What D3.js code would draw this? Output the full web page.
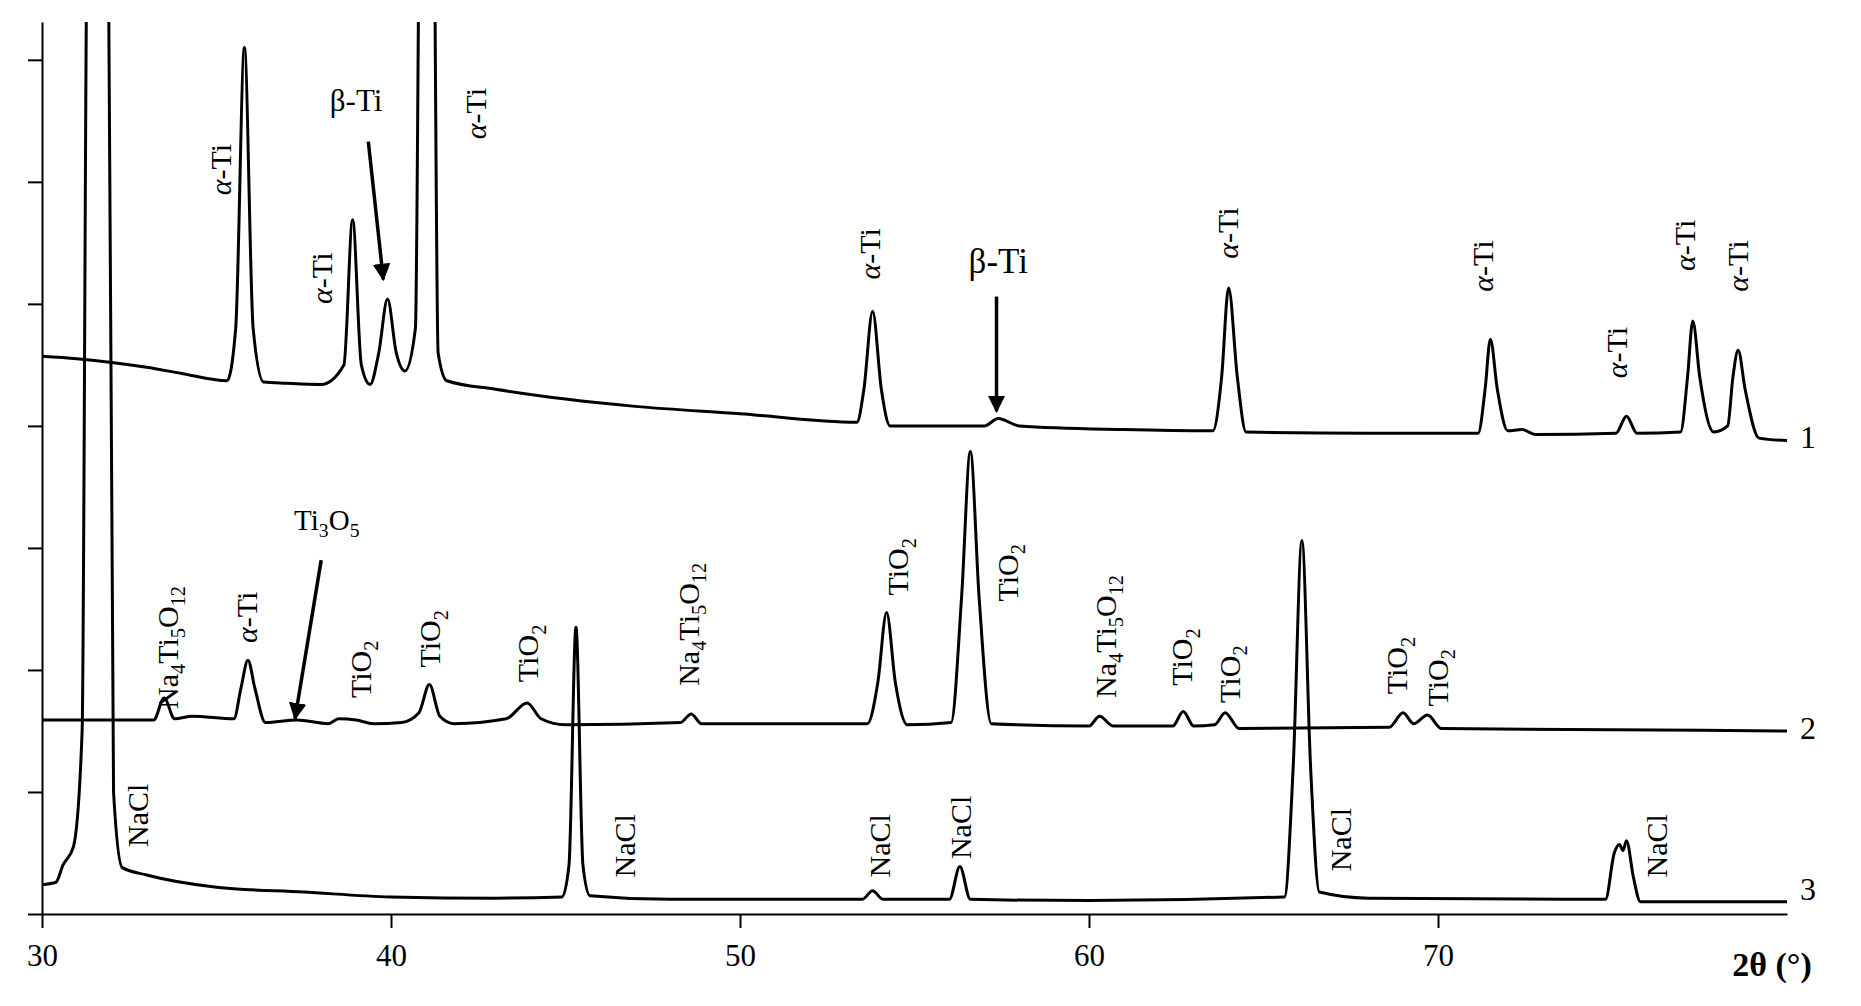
<!DOCTYPE html>
<html>
<head>
<script src="https://d3js.org/d3.v7.min.js"></script>
<style>
body { margin: 0; background: white; }
text { font-family: "Liberation Serif", "DejaVu Serif", serif; fill: black; }
</style>
</head>
<body>
<div id="chart"></div>
<script>
// pattern 1: [2theta, intensity]
const pattern1 = [[30,4.57],[31,4.55],[32,4.52],[33,4.48],[34,4.43],[35.3,4.37],[35.55,4.8],[35.8,7.1],[36.05,4.8],[36.35,4.36],[37,4.35],[38.0,4.34],[38.65,4.5],[38.9,5.69],[39.15,4.5],[39.4,4.34],[39.65,4.6],[39.9,5.04],[40.15,4.6],[40.4,4.45],[40.7,4.8],[40.85,9],[41.2,9],[41.35,4.6],[41.6,4.37],[43,4.3],[45,4.22],[47,4.16],[50,4.1],[53.35,4.03],[53.55,4.3],[53.8,4.94],[54.05,4.3],[54.3,4.0],[57,4.0],[57.4,4.06],[58,4.0],[61,3.97],[63.55,3.96],[63.8,4.4],[64.0,5.13],[64.25,4.4],[64.5,3.95],[68,3.94],[71.15,3.94],[71.35,4.3],[71.5,4.71],[71.7,4.3],[72.0,3.96],[72.4,3.97],[72.8,3.93],[75.1,3.94],[75.4,4.08],[75.7,3.94],[76.95,3.95],[77.15,4.4],[77.3,4.86],[77.5,4.4],[77.9,3.95],[78.3,4.0],[78.45,4.4],[78.6,4.62],[78.8,4.3],[79.2,3.9],[80,3.88]];
const pattern2 = [[30,1.59],[33.2,1.59],[33.5,1.77],[33.8,1.6],[34.3,1.62],[35.5,1.6],[35.7,1.85],[35.9,2.08],[36.1,1.85],[36.4,1.57],[37.3,1.59],[38.2,1.56],[38.5,1.6],[39,1.59],[39.5,1.56],[40.3,1.57],[40.8,1.65],[41.1,1.88],[41.4,1.62],[41.8,1.56],[43.3,1.6],[43.9,1.73],[44.3,1.6],[45,1.55],[48.3,1.57],[48.6,1.64],[48.9,1.56],[53.65,1.56],[53.95,1.9],[54.2,2.47],[54.45,1.9],[54.8,1.55],[56.05,1.57],[56.35,2.6],[56.6,3.79],[56.85,2.6],[57.2,1.56],[60,1.54],[60.3,1.62],[60.7,1.54],[62.4,1.54],[62.7,1.66],[63,1.54],[63.6,1.55],[63.9,1.65],[64.3,1.52],[68.6,1.53],[69,1.65],[69.3,1.56],[69.7,1.63],[70.1,1.52],[75,1.51],[80,1.5]];
const pattern3 = [[30,0.24],[30.4,0.26],[30.6,0.4],[30.9,0.55],[31.15,1.5],[31.3,8],[31.9,8],[32.05,1.0],[32.3,0.38],[33,0.32],[35,0.22],[37.5,0.18],[40,0.14],[43,0.13],[44.9,0.14],[45.1,0.4],[45.3,2.35],[45.5,0.4],[45.7,0.15],[48,0.12],[53.5,0.12],[53.8,0.19],[54.1,0.12],[56,0.12],[56.3,0.39],[56.6,0.12],[60,0.11],[65.6,0.14],[65.85,1.2],[66.1,3.06],[66.35,1.2],[66.6,0.18],[68,0.13],[74.8,0.12],[75.05,0.5],[75.2,0.57],[75.3,0.52],[75.4,0.6],[75.6,0.3],[75.8,0.1],[80,0.1]];

const xTicks = [30, 40, 50, 60, 70];
const yTicks = [0, 1, 2, 3, 4, 5, 6, 7];

// rotated peak labels: [text, 2theta, bottom]
const peakLabels = [
  ["α-Ti",35.1,5.89],["α-Ti",38.0,5.0],["α-Ti",42.4,6.35],["α-Ti",53.7,5.2],["α-Ti",63.95,5.37],
  ["α-Ti",71.25,5.1],["α-Ti",75.1,4.39],["α-Ti",77.04,5.27],["α-Ti",78.57,5.1],
  ["Na_4Ti_5O_12",33.57,1.68],["α-Ti",35.85,2.22],["TiO_2",39.1,1.77],["TiO_2",41.1,2.02],["TiO_2",43.9,1.9],
  ["Na_4Ti_5O_12",48.5,1.87],["TiO_2",54.5,2.61],["TiO_2",57.65,2.56],["Na_4Ti_5O_12",60.45,1.77],
  ["TiO_2",62.65,1.87],["TiO_2",64.0,1.73],["TiO_2",68.8,1.8],["TiO_2",69.97,1.7],
  ["NaCl",32.72,0.55],["NaCl",46.67,0.3],["NaCl",53.98,0.3],["NaCl",56.3,0.45],["NaCl",67.2,0.35],["NaCl",76.26,0.3]
];
// horizontal labels with arrows: [text, x, y, size, arrow x1, y1, x2, y2]
const arrowLabels = [
  ["β-Ti",39.0,6.58,31,39.35,6.33,39.78,5.2],
  ["β-Ti",57.4,5.25,35,57.35,5.06,57.35,4.12],
  ["Ti_3O_5",38.16,3.15,29,38.0,2.9,37.25,1.6]
];
const patternNames = [["1",3.9],["2",1.52],["3",0.2]];

const width = 1861, height = 1006;
const x = d3.scaleLinear().domain([30, 80]).range([42, 1787]);
const y = d3.scaleLinear().domain([0, 7.31]).range([914, 22]);

const svg = d3.create("svg").attr("width", width).attr("height", height);

svg.append("defs").append("clipPath").attr("id", "clip")
  .append("rect").attr("x", 42).attr("y", 22).attr("width", 1745).attr("height", 892);
const marker = svg.select("defs").append("marker").attr("id", "arrow")
  .attr("viewBox", "0 0 10 10").attr("refX", 9).attr("refY", 5)
  .attr("markerWidth", 5).attr("markerHeight", 5).attr("orient", "auto");
marker.append("path").attr("d", "M0,0 L10,5 L0,10 z").attr("fill", "black");

// axes
svg.append("g")
  .attr("transform", `translate(0,${y(0)})`)
  .call(d3.axisBottom(x).tickValues(xTicks).tickSize(14).tickSizeOuter(0).tickPadding(16))
  .call(g => g.selectAll("path,line").attr("stroke-width", 2))
  .call(g => g.selectAll("text").attr("font-size", 31).attr("font-family", "Liberation Serif"));
svg.append("g")
  .attr("transform", `translate(${x(30)},0)`)
  .call(d3.axisLeft(y).tickValues(yTicks).tickSize(14).tickSizeOuter(0).tickFormat(""))
  .call(g => g.selectAll("path,line").attr("stroke-width", 2));
svg.append("text").attr("x", 1772).attr("y", 976).attr("text-anchor", "middle")
  .attr("font-size", 34).attr("font-weight", "bold").text("2θ (°)");

const line = d3.line().x(d => x(d[0])).y(d => y(d[1])).curve(d3.curveMonotoneX);
svg.append("g").attr("clip-path", "url(#clip)")
  .selectAll("path").data([pattern1, pattern2, pattern3]).join("path")
  .attr("d", line).attr("fill", "none").attr("stroke", "black").attr("stroke-width", 3);

function fill(t, s, size) {
  let shift = 0;
  s.split(/(_\d+)/).filter(p => p).forEach(p => {
    if (p[0] === "_") {
      t.append("tspan").attr("font-size", size * 0.68).attr("dy", size * 0.25).text(p.slice(1));
      shift = -size * 0.25;
    } else {
      const parts = p.startsWith("α") ? [["α", "italic"], [p.slice(1), "normal"]] : [[p, "normal"]];
      parts.forEach(([txt, st]) => {
        t.append("tspan").attr("font-style", st).attr("dy", shift).text(txt);
        shift = 0;
      });
    }
  });
}

peakLabels.forEach(([s, px, py]) => {
  const t = svg.append("text").attr("font-size", 30)
    .attr("transform", `translate(${x(px) + 11},${y(py)}) rotate(-90)`);
  fill(t, s, 30);
});
arrowLabels.forEach(([s, px, py, size, x1, y1, x2, y2]) => {
  const t = svg.append("text").attr("font-size", size).attr("text-anchor", "middle")
    .attr("x", x(px)).attr("y", y(py));
  fill(t, s, size);
  svg.append("line").attr("x1", x(x1)).attr("y1", y(y1)).attr("x2", x(x2)).attr("y2", y(y2))
    .attr("stroke", "black").attr("stroke-width", 3.5).attr("marker-end", "url(#arrow)");
});
patternNames.forEach(([s, py]) => {
  svg.append("text").attr("x", 1800).attr("y", y(py) + 10).attr("font-size", 32).text(s);
});

document.getElementById("chart").appendChild(svg.node());
</script>
</body>
</html>
